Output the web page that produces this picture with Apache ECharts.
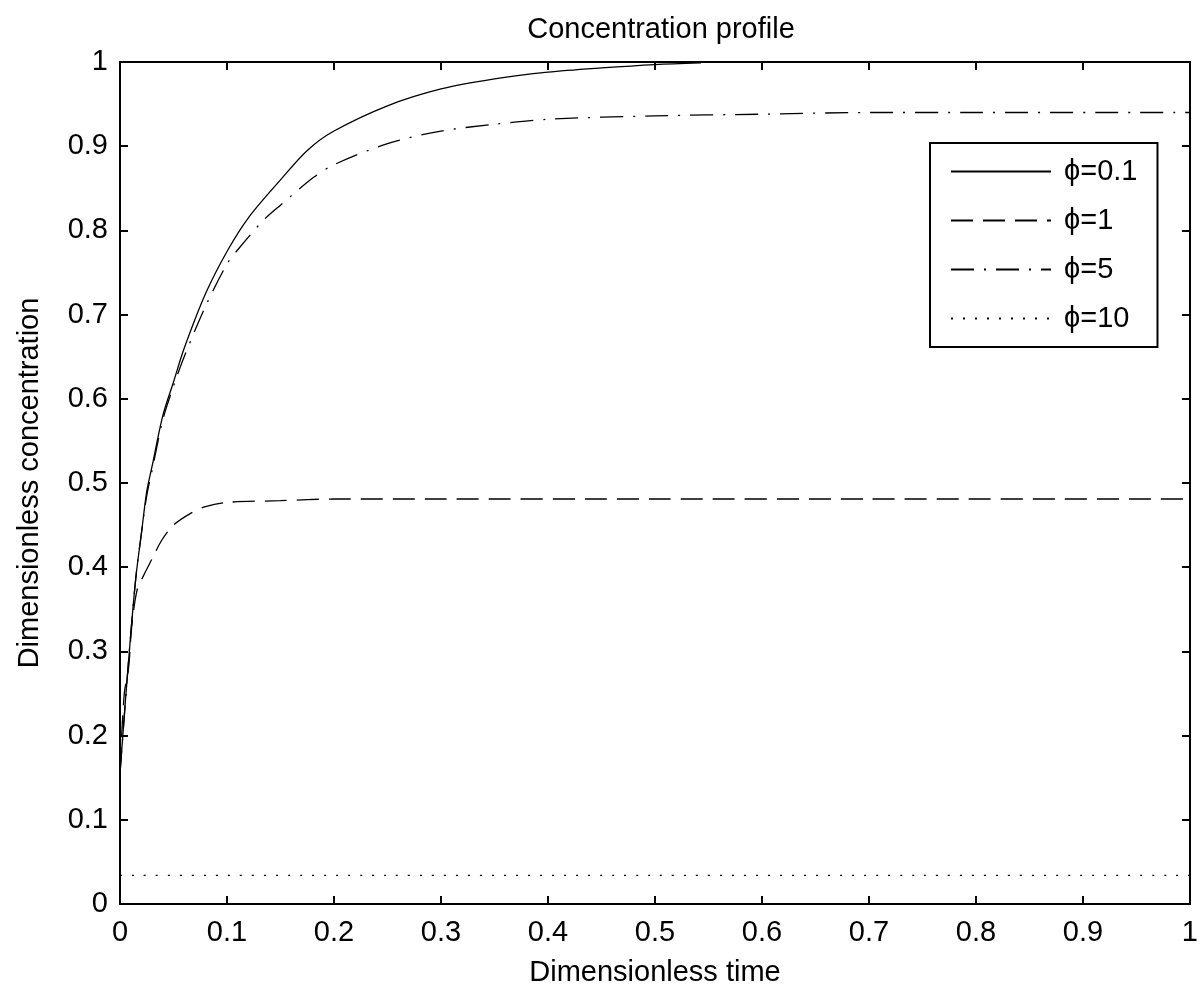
<!DOCTYPE html>
<html>
<head>
<meta charset="utf-8">
<script src="https://cdn.jsdelivr.net/npm/echarts@6/dist/echarts.min.js"></script>
<style>
  html, body { margin: 0; padding: 0; background: #fff; }
  #main { width: 1201px; height: 992px; }
</style>
</head>
<body>
<div id="main"></div>
<script>
// phi = 0.1 (solid)
const t01 = [0, 0.005, 0.01, 0.015, 0.02, 0.025, 0.03, 0.04, 0.05, 0.06, 0.08, 0.1, 0.12, 0.15, 0.175, 0.2, 0.25, 0.3, 0.35, 0.4, 0.45, 0.5, 0.543]
const c01 = [0.155, 0.24, 0.32, 0.39, 0.44, 0.49, 0.52, 0.58, 0.62, 0.66, 0.725, 0.775, 0.815, 0.86, 0.895, 0.918, 0.948, 0.968, 0.98, 0.988, 0.993, 0.997, 0.999]
// phi = 1 (dashed)
const t1 = [0, 0.004, 0.008, 0.011, 0.016, 0.022, 0.03, 0.039, 0.05, 0.066, 0.08, 0.1, 0.15, 0.2, 0.3, 0.5, 0.7, 1.0]
const c1 = [0.16, 0.25, 0.28, 0.33, 0.373, 0.39, 0.41, 0.432, 0.45, 0.464, 0.472, 0.477, 0.479, 0.481, 0.481, 0.481, 0.481, 0.481]
// phi = 5 (dash-dot)
const t5 = [0, 0.005, 0.01, 0.015, 0.02, 0.025, 0.03, 0.04, 0.05, 0.06, 0.08, 0.1, 0.112, 0.134, 0.15, 0.181, 0.2, 0.25, 0.3, 0.35, 0.4, 0.5, 0.6, 0.7, 0.8, 1.0]
const c5 = [0.155, 0.24, 0.32, 0.39, 0.44, 0.485, 0.515, 0.575, 0.615, 0.65, 0.71, 0.76, 0.78, 0.812, 0.83, 0.863, 0.878, 0.903, 0.918, 0.926, 0.932, 0.936, 0.938, 0.94, 0.94, 0.94]
// phi = 10 (dotted)
const t10 = [0, 0.25, 0.5, 0.75, 1.0]
const c10 = [0.034, 0.034, 0.034, 0.034, 0.034]

const seriesNames = ['\u03d5=0.1', '\u03d5=1', '\u03d5=5', '\u03d5=10']
const dashTypes = ['solid', [22, 10], [23, 10, 2, 10], [2, 10]]

const font = 'Liberation Sans, Arial, sans-serif'
const fs = 29

function pairs (xs, ys) {
  return xs.map((x, i) => [x, ys[i]])
}
const allData = [pairs(t01, c01), pairs(t1, c1), pairs(t5, c5), pairs(t10, c10)]

const baseAxis = {
  min: 0,
  max: 1,
  interval: 0.1,
  type: 'value',
  axisLine: { show: true, onZero: false, lineStyle: { color: '#000', width: 2 } },
  axisTick: { show: true, inside: true, length: 8, lineStyle: { color: '#000', width: 2 } },
  splitLine: { show: false }
}

const option = {
  animation: false,
  backgroundColor: '#fff',
  textStyle: { fontFamily: font },
  title: {
    text: 'Concentration profile',
    left: 656,
    top: 10,
    textAlign: 'center',
    textStyle: { fontFamily: font, fontSize: fs, fontWeight: 'normal', color: '#000' }
  },
  grid: { left: 120, right: 8, top: 62, bottom: 88 },
  legend: {
    orient: 'vertical',
    left: 930,
    top: 143,
    width: 229,
    padding: [14, 20, 14, 20],
    itemWidth: 100,
    itemHeight: 16,
    itemGap: 20,
    borderColor: '#000',
    borderWidth: 2,
    backgroundColor: '#fff',
    itemStyle: { opacity: 0 },
    data: seriesNames,
    textStyle: { fontFamily: font, fontSize: fs, color: '#000', padding: [0, 0, 0, 8] }
  },
  xAxis: [
    Object.assign({}, baseAxis, {
      position: 'bottom',
      name: 'Dimensionless time',
      nameLocation: 'middle',
      nameGap: 54,
      nameTextStyle: { fontFamily: font, fontSize: fs, color: '#000' },
      axisLabel: { fontFamily: font, fontSize: fs, color: '#000', margin: 14 }
    }),
    Object.assign({}, baseAxis, { position: 'top', axisLabel: { show: false } })
  ],
  yAxis: [
    Object.assign({}, baseAxis, {
      position: 'left',
      name: 'Dimensionless concentration',
      nameLocation: 'middle',
      nameGap: 76,
      nameTextStyle: { fontFamily: font, fontSize: fs, color: '#000' },
      axisLabel: { fontFamily: font, fontSize: fs, color: '#000', margin: 12 }
    }),
    Object.assign({}, baseAxis, { position: 'right', axisLabel: { show: false } })
  ],
  series: allData.map((d, i) => ({
    name: seriesNames[i],
    type: 'line',
    data: d,
    symbol: 'none',
    smooth: 0.3,
    lineStyle: { color: '#000', width: 1.3, type: dashTypes[i] },
    itemStyle: { color: '#000' }
  }))
}

const chart = echarts.init(document.getElementById('main'))
chart.setOption(option)
</script>
</body>
</html>
